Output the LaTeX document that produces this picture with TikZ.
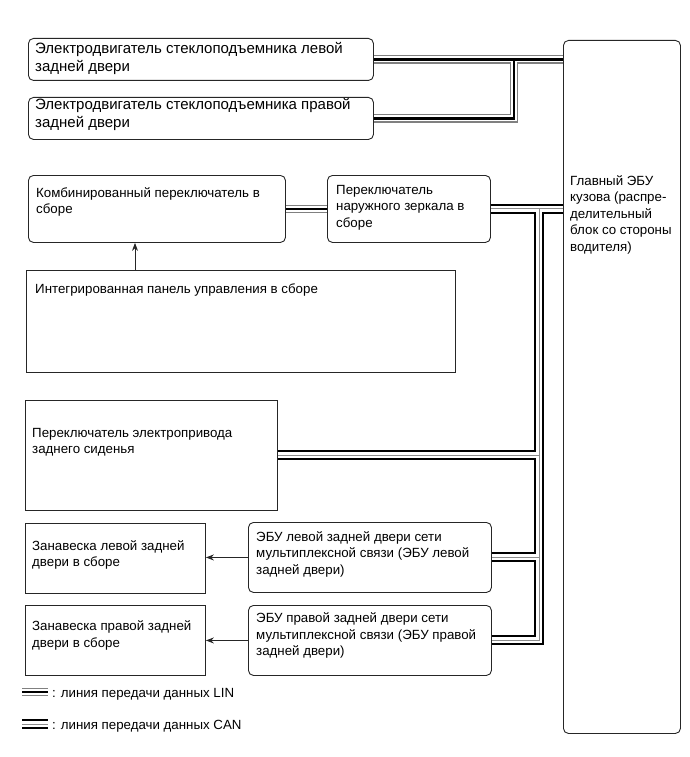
\documentclass[tikz,border=0pt]{standalone}
\usepackage{fontspec}
\setmainfont{Liberation Sans}
\usetikzlibrary{arrows.meta,calc}
\newcommand{\mlines}[1]{\begin{tabular}[t]{@{}l@{}}#1\end{tabular}}
\tikzset{
  rbox/.style={draw=black!85, line width=0.9pt, rounded corners=5pt, anchor=north west, inner sep=0pt},
  sbox/.style={draw=black!85, line width=0.9pt, anchor=north west, inner sep=0pt},
  txt/.style={anchor=base west, inner sep=0pt, font=\fontsize{13.3}{16.5}\selectfont},
  bigtxt/.style={anchor=base west, inner sep=0pt, font=\fontsize{15}{18}\selectfont},
  arr/.style={draw=black!85, line width=0.9pt, -{Stealth[length=8pt,width=6pt]}},
  canbus/.style={draw=white, line width=6pt,
    preaction={draw=black, line width=10pt},
    postaction={draw=black!45, line width=1pt}},
  linbus/.style={draw=white, line width=6pt,
    preaction={draw=black!50, line width=8.5pt},
    postaction={draw=black, line width=2.4pt}},
}
\begin{document}
\begin{tikzpicture}[x=1pt,y=-1pt]
\useasboundingbox (0,0) rectangle (690,757);
% boxes
\node[rbox, minimum width=345pt, minimum height=42pt] (motorL) at (28,38) {};
\node[rbox, minimum width=345pt, minimum height=42pt] (motorR) at (28,97) {};
\node[rbox, minimum width=117pt, minimum height=693pt] (ecu) at (563,40) {};
\node[rbox, minimum width=257pt, minimum height=67pt] (combo) at (28,175) {};
\node[rbox, minimum width=163pt, minimum height=67pt] (mirror) at (327,175) {};
\node[sbox, minimum width=429pt, minimum height=102pt] (integ) at (26,270) {};
\node[sbox, minimum width=252pt, minimum height=110pt] (seat) at (25,400) {};
\node[rbox, minimum width=243pt, minimum height=70pt] (ldecu) at (248,522) {};
\node[rbox, minimum width=243pt, minimum height=70pt] (rdecu) at (248,605) {};
\node[sbox, minimum width=180pt, minimum height=70pt] (curtL) at (25,523) {};
\node[sbox, minimum width=180pt, minimum height=70pt] (curtR) at (25,605) {};
% texts
\node[bigtxt] (tmotorL) at ($(motorL.north west)+(7,16)$) {\mlines{Электродвигатель стеклоподъемника левой\\задней двери}};
\node[bigtxt] (tmotorR) at ($(motorR.north west)+(7,12.5)$) {\mlines{Электродвигатель стеклоподъемника правой\\задней двери}};
\node[txt] (tecu) at ($(ecu.north west)+(7,145)$) {\mlines{Главный ЭБУ\\кузова (распре-\\делительный\\блок со стороны\\водителя)}};
\node[txt] (tcombo) at ($(combo.north west)+(8,22)$) {\mlines{Комбинированный переключатель в\\сборе}};
\node[txt] (tmirror) at ($(mirror.north west)+(9,19)$) {\mlines{Переключатель\\наружного зеркала в\\сборе}};
\node[txt] (tinteg) at ($(integ.north west)+(9,23)$) {\mlines{Интегрированная панель управления в сборе}};
\node[txt] (tseat) at ($(seat.north west)+(7,37)$) {\mlines{Переключатель электропривода\\заднего сиденья}};
\node[txt] (tldecu) at ($(ldecu.north west)+(8,19)$) {\mlines{ЭБУ левой задней двери сети\\мультиплексной связи (ЭБУ левой\\задней двери)}};
\node[txt] (trdecu) at ($(rdecu.north west)+(8,17.5)$) {\mlines{ЭБУ правой задней двери сети\\мультиплексной связи (ЭБУ правой\\задней двери)}};
\node[txt] (tcurtL) at ($(curtL.north west)+(7,27)$) {\mlines{Занавеска левой задней\\двери в сборе}};
\node[txt] (tcurtR) at ($(curtR.north west)+(7,25.5)$) {\mlines{Занавеска правой задней\\двери в сборе}};
% LIN bus
\coordinate (linx) at (514,59);
\path[linbus] (motorL.east) -- (motorL.east -| ecu.west)
  (linx |- motorL.east) -- (linx |- motorR.east) -- (motorR.east)
  (combo.east) -- (mirror.west);
% CAN bus
\coordinate (busx) at (539,208);
\path[canbus] (mirror.east) -- (mirror.east -| ecu.west)
  (busx |- mirror.east) -- (busx |- rdecu.east) -- (rdecu.east)
  (seat.east) -- (busx |- seat.east)
  (ldecu.east) -- (busx |- ldecu.east);
% arrows
\coordinate (arrx) at (135,0);
\draw[arr] (integ.north -| arrx) -- (combo.south -| arrx);
\draw[arr] (ldecu.west) -- (ldecu.west -| curtL.east);
\draw[arr] (rdecu.west) -- (rdecu.west -| curtR.east);
% legend
\coordinate (linA) at (22,692);
\coordinate (linB) at (48,692);
\path[linbus] (linA) -- (linB);
\node[txt] (linlbl) at (52,697) {: линия передачи данных LIN};
\coordinate (canA) at (22,724);
\coordinate (canB) at (48,724);
\path[canbus] (canA) -- (canB);
\node[txt] (canlbl) at (52,729) {: линия передачи данных CAN};
\end{tikzpicture}
\end{document}
